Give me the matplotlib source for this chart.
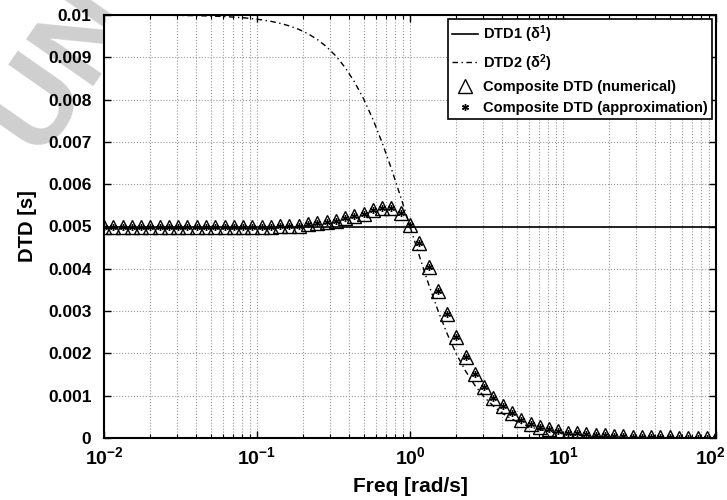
import numpy as np
import matplotlib
matplotlib.use('Agg')
from matplotlib import pyplot as plt
from matplotlib.ticker import FixedLocator, FixedFormatter, LogLocator, NullFormatter
from matplotlib.transforms import ScaledTranslation

plt.rcParams['font.family'] = ['Liberation Sans', 'DejaVu Sans']
plt.rcParams['font.weight'] = 'bold'
plt.rcParams['mathtext.fontset'] = 'custom'
plt.rcParams['mathtext.rm'] = 'Liberation Sans'
plt.rcParams['mathtext.bf'] = 'Liberation Sans:bold'
plt.rcParams['mathtext.it'] = 'Liberation Sans:italic'

# frequency grid [rad/s] (log spaced)
freq = [0.01, 0.0115, 0.01322, 0.0152, 0.01748, 0.02009, 0.0231, 0.02656,
        0.03054, 0.03511, 0.04037, 0.04642, 0.05337, 0.06136, 0.07055,
        0.08111, 0.09326, 0.1072, 0.1233, 0.1418, 0.163, 0.1874, 0.2154,
        0.2477, 0.2848, 0.3275, 0.3765, 0.4329, 0.4977, 0.5722, 0.6579,
        0.7565, 0.8697, 1.0, 1.15, 1.322, 1.52, 1.748, 2.009, 2.31, 2.656,
        3.054, 3.511, 4.037, 4.642, 5.337, 6.136, 7.055, 8.111, 9.326,
        10.72, 12.33, 14.18, 16.3, 18.74, 21.54, 24.77, 28.48, 32.75,
        37.65, 43.29, 49.77, 57.22, 65.79, 75.65, 86.97, 100.0]

# DTD1 (constant)
dtd1 = [0.005] * len(freq)

# DTD2
dtd2 = [0.009999, 0.009999, 0.009998, 0.009998, 0.009997, 0.009996, 0.009995,
        0.009993, 0.009991, 0.009988, 0.009984, 0.009979, 0.009972, 0.009963,
        0.00995, 0.009935, 0.009914, 0.009886, 0.00985, 0.009803, 0.009741,
        0.009661, 0.009557, 0.009422, 0.00925, 0.009031, 0.008758, 0.008422,
        0.008015, 0.007534, 0.006979, 0.00636, 0.005693, 0.005, 0.004306,
        0.003639, 0.003021, 0.002466, 0.001986, 0.001578, 0.001242, 0.000968,
        0.00075, 0.000578, 0.000443, 0.000339, 0.00026, 0.000197, 0.00015,
        0.000114, 0.0000863, 0.0000654, 0.0000496, 0.0000375, 0.0000284,
        0.0000215, 0.0000163, 0.0000123, 0.0000093, 0.0000071, 0.0000053,
        0.000004, 0.0000031, 0.0000023, 0.0000017, 0.0000013, 0.000001]

# composite DTD, numerical
comp_num = [0.005, 0.005, 0.005, 0.005, 0.005, 0.005, 0.005, 0.005, 0.005,
            0.005, 0.005, 0.005, 0.005, 0.005, 0.005, 0.005, 0.005, 0.005,
            0.005, 0.00501, 0.00501, 0.00502, 0.00505, 0.00508, 0.0051,
            0.00514, 0.00519, 0.00524, 0.0053, 0.00538, 0.00544, 0.00544,
            0.00531, 0.00503, 0.0046, 0.00405, 0.00348, 0.00292, 0.00238,
            0.00192, 0.00151, 0.0012, 0.00094, 0.00076, 0.00058, 0.00043,
            0.00034, 0.00027, 0.00021, 0.00017, 0.00013, 0.00011, 0.0001,
            0.000076, 0.00006, 0.000048, 0.000038, 0.00003, 0.000024,
            0.000019, 0.000015, 0.000012, 0.00001, 0.000008, 0.000006,
            0.000005, 0.000004]

# composite DTD, approximation
comp_apx = list(comp_num)

ytick_vals = [0, 0.001, 0.002, 0.003, 0.004, 0.005, 0.006, 0.007, 0.008, 0.009, 0.01]
ytick_labels = ['0', '0.001', '0.002', '0.003', '0.004', '0.005', '0.006',
                '0.007', '0.008', '0.009', '0.01']
xtick_vals = [1e-2, 1e-1, 1e0, 1e1, 1e2]
xtick_labels = [r'$\mathbf{10^{-2}}$', r'$\mathbf{10^{-1}}$', r'$\mathbf{10^{0}}$',
                r'$\mathbf{10^{1}}$', r'$\mathbf{10^{2}}$']

fig = plt.figure(figsize=(7.27, 5.0), dpi=100)

# watermark behind the axes
fig.text(-0.045, 0.66, 'UN', rotation=55, fontsize=85,
         color='#cfcfcf', fontweight='bold', zorder=-5, ha='left', va='bottom')

ax = fig.add_axes([0.143, 0.124, 0.842, 0.846])
ax.set_facecolor('white')

ax.semilogx(freq, dtd1, '-', color='black', lw=1.2, label=r'DTD1 ($\mathrm{\delta}^{\mathrm{1}}$)')
ax.semilogx(freq, dtd2, color='black', lw=1.0, dashes=(4, 2.5, 1, 2.5),
            label=r'DTD2 ($\mathrm{\delta}^{\mathrm{2}}$)')
ax.semilogx(freq, comp_num, '^', color='black', mfc='none', mew=1.0, ms=10,
            ls='none', label='Composite DTD (numerical)')
ax.semilogx(freq, comp_apx, marker=(6, 2, 0), color='black', mew=1.0, ms=5,
            ls='none', label='Composite DTD (approximation)')

ax.set_xlim(1e-2, 1e2)
ax.set_ylim(0, 0.01)

ax.yaxis.set_major_locator(FixedLocator(ytick_vals))
ax.yaxis.set_major_formatter(FixedFormatter(ytick_labels))
ax.xaxis.set_major_locator(FixedLocator(xtick_vals))
ax.xaxis.set_major_formatter(FixedFormatter(xtick_labels))
ax.xaxis.set_minor_locator(LogLocator(base=10, subs=np.arange(2, 10), numticks=20))
ax.xaxis.set_minor_formatter(NullFormatter())

ax.tick_params(which='both', direction='in', top=True, right=True, colors='black')
ax.tick_params(which='major', length=5, width=1.0)
ax.tick_params(which='minor', length=3, width=0.8)
ax.tick_params(axis='x', labelsize=14, pad=6)
ax.tick_params(axis='y', labelsize=12.5, pad=9)

ax.grid(True, which='major', ls=':', color='#999999', lw=0.8)
ax.grid(True, which='minor', axis='x', ls=':', color='#999999', lw=0.8)

for s in ax.spines.values():
    s.set_linewidth(1.5)

ax.set_xlabel('Freq [rad/s]', fontsize=15, fontweight='bold', labelpad=6)
ax.set_ylabel('DTD [s]', fontsize=14.5, fontweight='bold', labelpad=8)

# last x tick label pulled inside the figure, as in the reference
last = ax.xaxis.get_major_ticks()[-1].label1
last.set_horizontalalignment('right')
last.set_transform(last.get_transform() + ScaledTranslation(0.1, 0, fig.dpi_scale_trans))

leg = ax.legend(loc='upper right', fontsize=10.5, fancybox=False, framealpha=1,
                edgecolor='black', handlelength=1.8, handletextpad=0.3,
                borderpad=0.3, labelspacing=0.45, borderaxespad=0.3)
leg.get_frame().set_linewidth(1.2)

fig.savefig('out.png', dpi=100)
